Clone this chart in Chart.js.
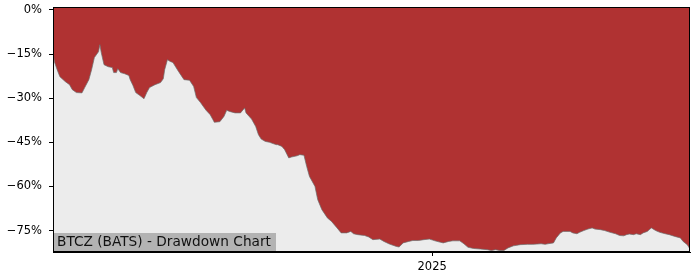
<!DOCTYPE html>
<html>
<head>
<meta charset="utf-8">
<script src="https://cdn.jsdelivr.net/npm/chart.js@4/dist/chart.umd.min.js"></script>
<style>
  html, body { margin: 0; padding: 0; background: #fff; }
  #wrap { width: 700px; height: 280px; }
</style>
</head>
<body>
<div id="wrap"><canvas id="chart" width="700" height="280"></canvas></div>
<script>
// drawdown series, x = days since 2024-04-01
const dayOffsets = [0,1,3,5,9,12,14,17,21,23,26,28,30,33,34,35,37,40,43,44,46,47,49,52,55,56,58,60,63,66,68,70,74,78,80,81,83,85,87,91,95,99,102,104,107,109,111,114,116,117,121,124,126,128,132,136,139,140,144,147,149,151,154,157,160,162,163,166,168,171,173,177,179,182,184,186,190,192,195,199,202,206,209,213,216,218,221,226,229,232,237,240,244,249,251,254,258,261,265,269,273,277,281,283,287,290,295,298,301,305,310,315,318,321,324,327,330,334,339,344,348,354,357,359,363,365,368,370,375,377,380,382,385,388,391,393,397,400,404,408,411,414,416,418,421,423,426,428,431,433,434,437,440,444,447,451,455,457,460,462];
const drawdown = [-14.5,-17.6,-20.3,-22.7,-24.4,-25.4,-27.1,-28.1,-28.2,-26.4,-23.7,-20.3,-16.2,-14.2,-11.8,-14.5,-18.6,-19.3,-19.6,-21.3,-21.3,-20.0,-21.3,-21.7,-22.3,-23.7,-25.7,-28.1,-29.1,-30.2,-28.1,-26.4,-25.4,-24.7,-23.4,-20.3,-16.9,-17.5,-17.9,-20.9,-23.7,-23.9,-26.0,-29.8,-31.5,-32.8,-34.1,-35.6,-37.3,-38.2,-38.0,-36.2,-34.1,-34.5,-35.0,-35.0,-33.3,-35.0,-37.1,-39.6,-42.4,-43.9,-44.7,-45.0,-45.5,-45.8,-45.8,-46.4,-47.5,-50.3,-50.0,-49.6,-49.2,-49.4,-53.2,-56.6,-60.0,-64.5,-67.9,-70.7,-71.9,-74.1,-75.8,-75.8,-75.3,-76.1,-76.4,-76.7,-77.2,-78.1,-77.9,-78.7,-79.6,-80.4,-80.6,-79.2,-78.7,-78.4,-78.4,-78.1,-77.9,-78.5,-79.0,-79.2,-78.7,-78.5,-78.5,-79.5,-80.7,-81.1,-81.3,-81.5,-81.8,-81.5,-81.8,-81.8,-80.9,-80.2,-79.8,-79.7,-79.7,-79.5,-79.7,-79.5,-79.2,-77.5,-75.8,-75.3,-75.3,-75.8,-76.1,-75.6,-75.0,-74.5,-74.1,-74.5,-74.7,-75.0,-75.6,-76.1,-76.7,-76.8,-76.4,-76.2,-76.4,-76.1,-76.4,-75.8,-75.3,-74.5,-74.1,-75.0,-75.6,-76.1,-76.4,-77.0,-77.5,-78.7,-79.8,-81.3];

const yTicks = [-75, -60, -45, -30, -15, 0];
const xTickDays = [275];
const xTickLabels = ["2025"];
const chartTitle = "BTCZ (BATS) - Drawdown Chart";

const points = dayOffsets.map((d, i) => ({ x: d, y: drawdown[i] }));

// grey plot background, title box, black frame
const frame = {
    id: "frame",
    beforeDatasetsDraw(chart) {
        const { ctx, chartArea: a } = chart;
        ctx.save();
        ctx.fillStyle = "#ececec";
        ctx.fillRect(a.left, a.top, a.right - a.left, a.bottom - a.top);
        ctx.restore();
    },
    afterDatasetsDraw(chart) {
        const { ctx, chartArea: a } = chart;
        ctx.save();
        ctx.font = "13.7px 'DejaVu Sans'";
        ctx.fillStyle = "#b3b3b3";
        ctx.fillRect(a.left, a.bottom - 19, 223, 19);
        ctx.fillStyle = "#111";
        ctx.textBaseline = "middle";
        ctx.fillText(chartTitle, a.left + 4, a.bottom - 9.5);
        ctx.strokeStyle = "#000";
        ctx.lineWidth = 1;
        ctx.strokeRect(a.left + 0.5, a.top + 0.5, a.right - a.left - 1, a.bottom - a.top - 1);
        ctx.restore();
    },
};

new Chart(document.getElementById("chart"), {
    type: "line",
    data: {
        datasets: [{
            data: points,
            fill: "end",
            backgroundColor: "#b03232",
            borderColor: "rgba(110,110,110,0.7)",
            borderWidth: 1,
            pointRadius: 0,
            tension: 0,
        }],
    },
    options: {
        responsive: false,
        animation: false,
        devicePixelRatio: 1,
        layout: { padding: { top: 7, right: 10, left: 0, bottom: 0 } },
        plugins: { legend: { display: false }, tooltip: { enabled: false } },
        scales: {
            x: {
                type: "linear",
                min: 0,
                max: 462,
                afterBuildTicks: (s) => { s.ticks = xTickDays.map((v) => ({ value: v })); },
                afterFit: (s) => { s.height = 28; s.paddingLeft = 0; s.paddingRight = 0; },
                grid: { drawOnChartArea: false, tickLength: 4, color: "#000" },
                border: { color: "#000", width: 1 },
                ticks: {
                    padding: 4,
                    maxRotation: 0,
                    color: "#000",
                    font: { family: "DejaVu Sans", size: 11.5 },
                    callback: (v) => xTickLabels[xTickDays.indexOf(v)] ?? "",
                },
            },
            y: {
                min: -82.3,
                max: 1.0,
                afterBuildTicks: (s) => { s.ticks = yTicks.map((v) => ({ value: v })); },
                afterFit: (s) => { s.width = 53; s.paddingTop = 0; s.paddingBottom = 0; },
                grid: { drawOnChartArea: false, tickLength: 4, color: "#000" },
                border: { color: "#000", width: 1 },
                ticks: {
                    padding: 7,
                    color: "#000",
                    font: { family: "DejaVu Sans", size: 11.5 },
                    callback: (v) => (v < 0 ? "\u2212" + Math.abs(v) : v) + "%",
                },
            },
        },
    },
    plugins: [frame],
});
</script>
</body>
</html>
